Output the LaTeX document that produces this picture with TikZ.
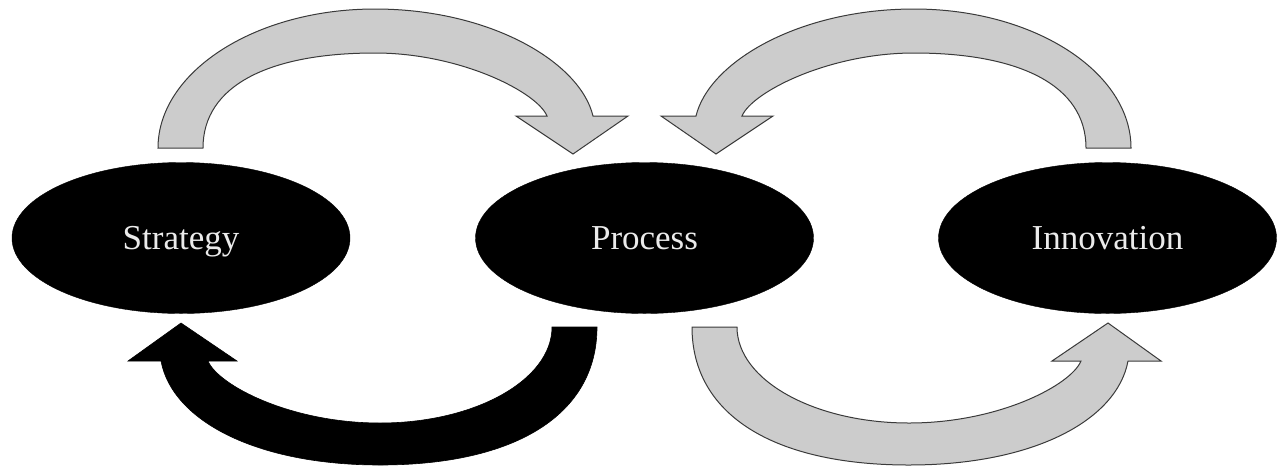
\documentclass[tikz,border=0pt]{standalone}
\usepackage{fontspec}
\setmainfont{Liberation Serif}
\usetikzlibrary{shapes.geometric}
\definecolor{arrowgray}{HTML}{CCCCCC}
\definecolor{edgegray}{HTML}{3A3A3A}
\tikzset{
  blob/.style={ellipse, fill=black, draw=black, minimum width=338pt, minimum height=151pt,
    inner sep=0pt, text=white!92!black, font=\fontsize{35}{40}\selectfont,
    text height=26pt, text depth=4pt},
  grayarrow/.style={fill=arrowgray, draw=edgegray, line width=1pt, line join=miter},
  blackarrow/.style={fill=black, draw=black, line width=0.6pt, line join=miter}
}
\begin{document}
\begin{tikzpicture}[x=1pt,y=-1pt]
\useasboundingbox (0,0) rectangle (1284,467);
\node[blob] (S) at (181,238) {Strategy};
\node[blob] (P) at (644.5,238) {Process};
\node[blob] (I) at (1107.5,238) {Innovation};
% top-left: Strategy -> Process
\path[grayarrow] (158,148) .. controls (158,72) and (255,9) .. (375,9)
 .. controls (490,9) and (580,62) .. (593,116)
 -- (628,116) -- (573,154) -- (516,116) -- (547,116)
 .. controls (537,92) and (460,53) .. (375,53)
 .. controls (270,53) and (203,85) .. (203,148) -- cycle;
% bottom-left: Process -> Strategy (black)
\path[blackarrow] (597,327) .. controls (597,415) and (515,465) .. (380,465)
 .. controls (255,465) and (172,420) .. (161,361)
 -- (128,361) -- (181,323) -- (237,361) -- (208,361)
 .. controls (218,385) and (290,423) .. (380,423)
 .. controls (475,423) and (552,380) .. (552,327) -- cycle;
\begin{scope}[shift={(1289,0)}, xscale=-1]
% top-right: Innovation -> Process
\path[grayarrow] (158,148) .. controls (158,72) and (255,9) .. (375,9)
 .. controls (490,9) and (580,62) .. (593,116)
 -- (628,116) -- (573,154) -- (516,116) -- (547,116)
 .. controls (537,92) and (460,53) .. (375,53)
 .. controls (270,53) and (203,85) .. (203,148) -- cycle;
% bottom-right: Process -> Innovation
\path[grayarrow] (597,327) .. controls (597,415) and (515,465) .. (380,465)
 .. controls (255,465) and (172,420) .. (161,361)
 -- (128,361) -- (181,323) -- (237,361) -- (208,361)
 .. controls (218,385) and (290,423) .. (380,423)
 .. controls (475,423) and (552,380) .. (552,327) -- cycle;
\end{scope}
\end{tikzpicture}
\end{document}
